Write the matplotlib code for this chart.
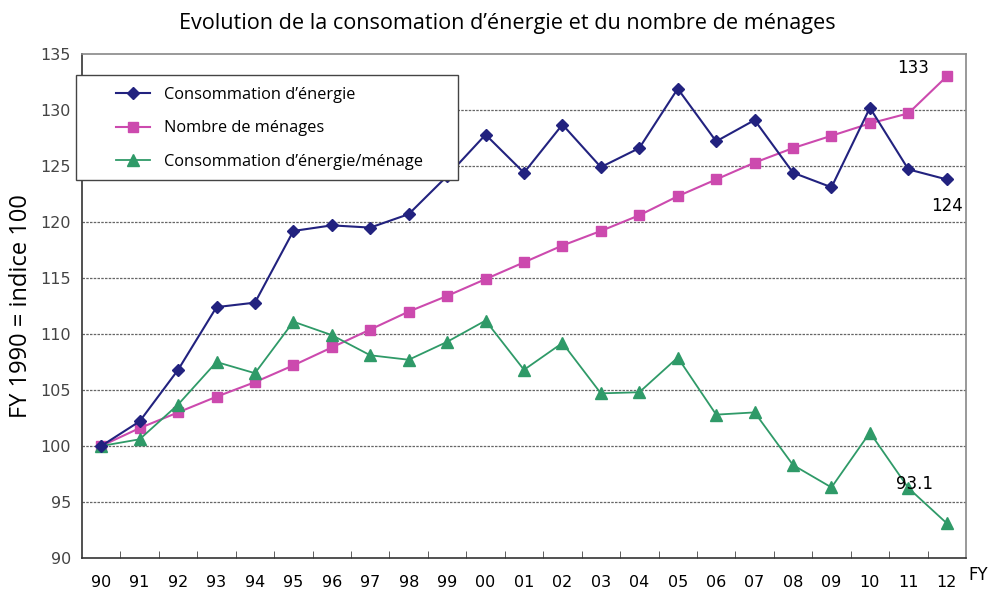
import matplotlib
matplotlib.use("Agg")
import matplotlib.pyplot as plt
from matplotlib.patches import Rectangle
import numpy as np

years = ["90", "91", "92", "93", "94", "95", "96", "97", "98", "99", "00", "01",
         "02", "03", "04", "05", "06", "07", "08", "09", "10", "11", "12"]
energy = [100, 102.2, 106.8, 112.4, 112.8, 119.2, 119.7, 119.5, 120.7, 124.1, 127.8, 124.4,
          128.7, 124.9, 126.6, 131.9, 127.2, 129.1, 124.4, 123.1, 130.2, 124.7, 123.8]
households = [100, 101.6, 103.0, 104.4, 105.7, 107.2, 108.8, 110.4, 112.0, 113.4, 114.9, 116.4,
              117.9, 119.2, 120.6, 122.3, 123.8, 125.3, 126.6, 127.7, 128.8, 129.7, 133.0]
per_household = [100, 100.6, 103.7, 107.5, 106.5, 111.1, 109.9, 108.1, 107.7, 109.3, 111.2, 106.8,
                 109.2, 104.7, 104.8, 107.9, 102.8, 103.0, 98.3, 96.3, 101.2, 96.25, 93.1]
labels = ["Consommation d\u2019énergie", "Nombre de ménages", "Consommation d\u2019énergie/ménage"]
end_labels = ["124", "133", "93.1"]

c_blue = "#22227f"
c_pink = "#cc4aae"
c_green = "#2f9a68"

W, H = 991, 592
fig = plt.figure(figsize=(W / 100, H / 100), dpi=100)
ax = fig.add_axes([82/W, 1-558/H, (966-82)/W, (558-54)/H])
x = np.arange(len(years))

ax.plot(x, energy, color=c_blue, marker="D", ms=6, lw=1.5, label=labels[0], zorder=4)
ax.plot(x, households, color=c_pink, marker="s", ms=7.5, lw=1.5, label=labels[1], zorder=3)
ax.plot(x, per_household, color=c_green, marker="^", ms=8, lw=1.3, label=labels[2], zorder=3)

ax.set_xlim(-0.5, len(years) - 0.5)
ax.set_ylim(90, 135)
ax.set_yticks(np.arange(90, 136, 5))
ax.set_xticks(x)
ax.set_xticklabels(years)
ax.set_xticks(x[:-1] + 0.5, minor=True)
ax.tick_params(axis="x", which="major", length=0, labelsize=11.5, pad=12, labelcolor="black")
ax.tick_params(axis="x", which="minor", direction="in", length=5, color="#444444")
ax.tick_params(axis="y", length=0, labelsize=11.5, labelcolor="#444444", pad=8)
for yv in range(95, 135, 5):
    ax.axhline(yv, color="#666666", lw=0.9, ls=(0, (2, 1)), zorder=1)

for s in ["left", "bottom"]:
    ax.spines[s].set_color("#333333")
    ax.spines[s].set_linewidth(1.2)
for s in ["top", "right"]:
    ax.spines[s].set_color("#888888")
    ax.spines[s].set_linewidth(1.2)

ax.set_ylabel("FY 1990 = indice 100", fontsize=17, family="Open Sans", labelpad=5)
fig.text(507/W, 1-24/H, "Evolution de la consomation d\u2019énergie et du nombre de ménages",
         ha="center", va="center", fontsize=15.6, family="Open Sans")

ax.annotate(end_labels[0], (x[-1], energy[-1]), xytext=(0, -19), textcoords="offset points",
            ha="center", va="center", fontsize=12)
ax.annotate(end_labels[1], (x[-1], households[-1]), xytext=(-24, 6), textcoords="offset points",
            ha="center", va="center", fontsize=12)
ax.annotate(end_labels[2], (x[-1], per_household[-1]), xytext=(-23, 28), textcoords="offset points",
            ha="center", va="center", fontsize=12)
fig.text(978/W, 1-575/H, "FY", ha="center", va="center", fontsize=12)

# legend box
box = Rectangle((76/W, 1-180/H), (458-76)/W, (180-75)/H, transform=fig.transFigure,
                facecolor="white", edgecolor="#444444", lw=1.0, zorder=9)
fig.add_artist(box)
leg = fig.legend(*ax.get_legend_handles_labels(), loc="upper left",
                 bbox_to_anchor=(116/W, 1-87/H), bbox_transform=fig.transFigure,
                 borderaxespad=0, borderpad=0, frameon=False,
                 labelspacing=1.06, handlelength=2.1, handletextpad=0.8,
                 prop={"family": "Open Sans", "size": 11.8})
leg.set_zorder(10)

fig.savefig("out.png", dpi=100)
